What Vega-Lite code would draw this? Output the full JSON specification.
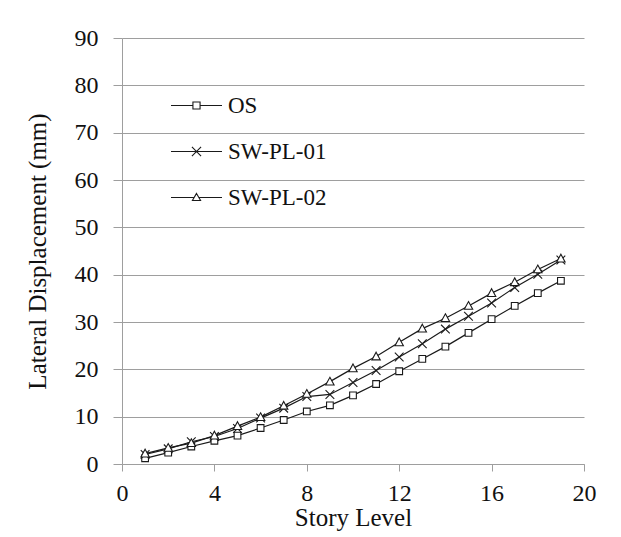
{
  "$schema": "https://vega.github.io/schema/vega-lite/v6.json",
  "width": 462,
  "height": 426,
  "autosize": {"type": "none"},
  "padding": {"left": 122, "top": 38, "right": 37, "bottom": 73},
  "background": "white",
  "config": {
    "font": "Liberation Serif",
    "view": {"stroke": null},
    "axis": {
      "domainColor": "#9e9e9e",
      "tickColor": "#9e9e9e",
      "gridColor": "#9e9e9e",
      "domainWidth": 1,
      "tickWidth": 1,
      "gridWidth": 1,
      "labelFont": "Liberation Serif",
      "titleFont": "Liberation Serif",
      "labelFontSize": 24,
      "titleFontSize": 25,
      "labelColor": "#111111",
      "titleColor": "#111111",
      "titleFontWeight": "normal"
    }
  },
  "data": {
    "values": [
      {"story": 1, "series": "OS", "disp": 1.2},
      {"story": 2, "series": "OS", "disp": 2.4},
      {"story": 3, "series": "OS", "disp": 3.7},
      {"story": 4, "series": "OS", "disp": 4.9},
      {"story": 5, "series": "OS", "disp": 6.0},
      {"story": 6, "series": "OS", "disp": 7.6},
      {"story": 7, "series": "OS", "disp": 9.3},
      {"story": 8, "series": "OS", "disp": 11.1},
      {"story": 9, "series": "OS", "disp": 12.4},
      {"story": 10, "series": "OS", "disp": 14.5},
      {"story": 11, "series": "OS", "disp": 16.9},
      {"story": 12, "series": "OS", "disp": 19.6},
      {"story": 13, "series": "OS", "disp": 22.2},
      {"story": 14, "series": "OS", "disp": 24.8},
      {"story": 15, "series": "OS", "disp": 27.7},
      {"story": 16, "series": "OS", "disp": 30.6},
      {"story": 17, "series": "OS", "disp": 33.4},
      {"story": 18, "series": "OS", "disp": 36.1},
      {"story": 19, "series": "OS", "disp": 38.7},
      {"story": 1, "series": "SW-PL-01", "disp": 2.0},
      {"story": 2, "series": "SW-PL-01", "disp": 3.2},
      {"story": 3, "series": "SW-PL-01", "disp": 4.7},
      {"story": 4, "series": "SW-PL-01", "disp": 5.8},
      {"story": 5, "series": "SW-PL-01", "disp": 7.5},
      {"story": 6, "series": "SW-PL-01", "disp": 9.7},
      {"story": 7, "series": "SW-PL-01", "disp": 11.8},
      {"story": 8, "series": "SW-PL-01", "disp": 14.25},
      {"story": 9, "series": "SW-PL-01", "disp": 14.7},
      {"story": 10, "series": "SW-PL-01", "disp": 17.2},
      {"story": 11, "series": "SW-PL-01", "disp": 19.75},
      {"story": 12, "series": "SW-PL-01", "disp": 22.6},
      {"story": 13, "series": "SW-PL-01", "disp": 25.4},
      {"story": 14, "series": "SW-PL-01", "disp": 28.5},
      {"story": 15, "series": "SW-PL-01", "disp": 31.2},
      {"story": 16, "series": "SW-PL-01", "disp": 34.0},
      {"story": 17, "series": "SW-PL-01", "disp": 37.3},
      {"story": 18, "series": "SW-PL-01", "disp": 40.1},
      {"story": 19, "series": "SW-PL-01", "disp": 43.1},
      {"story": 1, "series": "SW-PL-02", "disp": 2.2},
      {"story": 2, "series": "SW-PL-02", "disp": 3.4},
      {"story": 3, "series": "SW-PL-02", "disp": 4.4},
      {"story": 4, "series": "SW-PL-02", "disp": 6.0},
      {"story": 5, "series": "SW-PL-02", "disp": 8.0},
      {"story": 6, "series": "SW-PL-02", "disp": 9.9},
      {"story": 7, "series": "SW-PL-02", "disp": 12.3},
      {"story": 8, "series": "SW-PL-02", "disp": 14.8},
      {"story": 9, "series": "SW-PL-02", "disp": 17.4},
      {"story": 10, "series": "SW-PL-02", "disp": 20.2},
      {"story": 11, "series": "SW-PL-02", "disp": 22.7},
      {"story": 12, "series": "SW-PL-02", "disp": 25.7},
      {"story": 13, "series": "SW-PL-02", "disp": 28.6},
      {"story": 14, "series": "SW-PL-02", "disp": 30.8},
      {"story": 15, "series": "SW-PL-02", "disp": 33.4},
      {"story": 16, "series": "SW-PL-02", "disp": 36.1},
      {"story": 17, "series": "SW-PL-02", "disp": 38.4},
      {"story": 18, "series": "SW-PL-02", "disp": 41.1},
      {"story": 19, "series": "SW-PL-02", "disp": 43.4}
    ]
  },
  "encoding": {
    "x": {
      "field": "story",
      "type": "quantitative",
      "scale": {"domain": [0, 20], "nice": false},
      "axis": {
        "values": [0, 4, 8, 12, 16, 20],
        "title": "Story Level",
        "grid": false,
        "tickSize": 7,
        "labelPadding": 10,
        "labelFlush": false,
        "titlePadding": 0
      }
    },
    "y": {
      "field": "disp",
      "type": "quantitative",
      "scale": {"domain": [0, 90], "nice": false},
      "axis": {
        "values": [0, 10, 20, 30, 40, 50, 60, 70, 80, 90],
        "title": "Lateral Displacement (mm)",
        "grid": true,
        "tickSize": 9,
        "labelPadding": 15,
        "titlePadding": 24
      }
    }
  },
  "layer": [
    {
      "mark": {"type": "line", "color": "#1a1a1a", "strokeWidth": 1.2},
      "encoding": {"detail": {"field": "series", "type": "nominal"}}
    },
    {
      "mark": {"type": "point", "filled": false, "fill": "white", "stroke": "#1a1a1a", "strokeWidth": 1.1, "opacity": 1, "size": 45},
      "encoding": {
        "shape": {
          "field": "series",
          "type": "nominal",
          "scale": {
            "domain": ["OS", "SW-PL-01", "SW-PL-02"],
            "range": ["M-1,-1H1V1H-1Z", "M-1.3,-1.3L1.3,1.3M-1.3,1.3L1.3,-1.3", "M0,-1.3L1.25,1H-1.25Z"]
          },
          "legend": null
        }
      }
    },
    {
      "transform": [{"filter": {"field": "story", "lt": 0}}],
      "mark": {"type": "point", "filled": false, "color": "#1a1a1a", "strokeWidth": 1.1, "opacity": 1},
      "encoding": {
        "shape": {
          "field": "series",
          "type": "nominal",
          "scale": {
            "domain": ["OS", "SW-PL-01", "SW-PL-02"],
            "range": [
              "M-1,0H-0.14M0.14,0H1M-0.14,-0.14H0.14V0.14H-0.14Z",
              "M-1,0H1M-0.18,-0.18L0.18,0.18M-0.18,0.18L0.18,-0.18",
              "M-1,0H-0.1M0.1,0H1M0,-0.16L0.16,0.12H-0.16Z"
            ]
          },
          "legend": {
            "orient": "none",
            "legendX": 48,
            "legendY": 41,
            "title": null,
            "padding": 0,
            "labelFontSize": 23,
            "labelColor": "#111111",
            "labelFont": "Liberation Serif",
            "symbolSize": 2601,
            "symbolStrokeWidth": 1.1,
            "symbolOpacity": 1,
            "labelOffset": 5,
            "rowPadding": 7
          }
        }
      }
    }
  ],
  "resolve": {"scale": {"shape": "independent"}, "legend": {"shape": "independent"}}
}
